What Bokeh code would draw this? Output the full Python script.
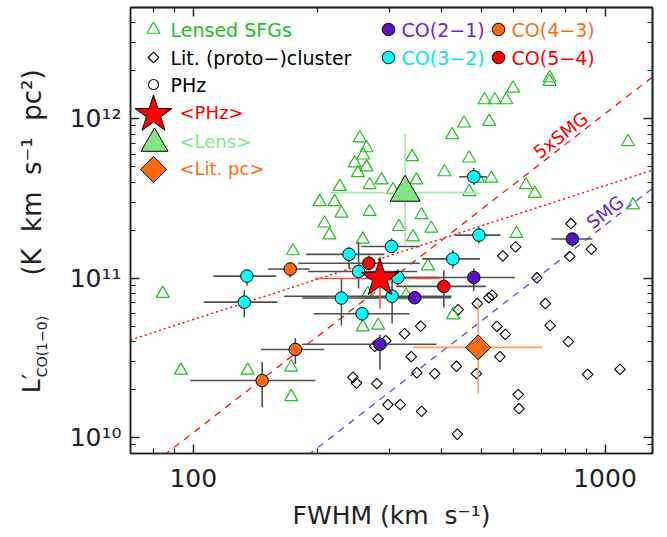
import math
from bokeh.plotting import figure
from bokeh.layouts import row
from bokeh.models import Range1d, FixedTicker, LogAxis, Label, CustomJSTickFormatter
from bokeh.core.properties import value
from bokeh.embed import file_html
from bokeh.resources import INLINE

# ---------------- axes ----------------
X_MIN, X_MAX = 70.4, 1304.0
Y_MIN, Y_MAX = 7.95e9, 4.98e12
x_major = [100, 1000]
x_minor = [80, 90, 200, 300, 400, 500, 600, 700, 800, 900]
y_major = [1e10, 1e11, 1e12]
y_minor = [9e9, 2e10, 3e10, 4e10, 5e10, 6e10, 7e10, 8e10, 9e10,
           2e11, 3e11, 4e11, 5e11, 6e11, 7e11, 8e11, 9e11, 2e12, 3e12, 4e12]

# ---------------- data ----------------
# Lensed SFGs (open green triangles)
lens_fwhm = [84.3, 93.3, 135.6, 172.9, 172.9, 174.6, 253.7, 263.6, 258.6, 246.6, 263.6, 251.2,
             286.6, 268.1, 226.9, 202.8, 220.4, 229.0, 268.1, 208.2, 214.2, 258.0, 315.9, 305.5,
             265.5, 258.0, 281.2, 328.9, 371.4, 427.3, 609.3, 358.4, 378.5, 341.7, 340.1, 348.3,
             407.4, 425.3, 454.6, 467.9, 467.9, 491.8, 529.6, 523.3, 509.8, 539.8, 575.5, 597.8,
             733.7, 733.7, 642.4, 675.3, 1137, 1170]
lens_lco = [8.0e10, 2.64e10, 2.64e10, 2.76e10, 1.80e10, 1.48e11, 7.56e11, 6.55e11, 5.90e11, 5.27e11,
            4.97e11, 4.57e11, 4.12e11, 3.84e11, 3.75e11, 3.01e11, 3.01e11, 2.55e11, 2.61e11, 2.21e11,
            1.86e11, 1.75e11, 2.10e11, 3.57e11, 8.0e10, 4.93e10, 5.05e10, 7.81e10, 1.19e11, 5.86e10,
            1.90e11, 2.49e11, 2.05e11, 1.81e11, 5.76e11, 4.12e11, 4.63e11, 7.91e11, 9.36e11, 5.65e11,
            3.48e11, 4.22e11, 4.22e11, 9.59e11, 1.31e12, 1.31e12, 1.31e12, 1.55e12, 1.80e12, 1.71e12,
            3.84e11, 3.39e11, 7.16e11, 2.87e11]

# Literature (proto-)clusters (open diamonds)
lit_fwhm = [826.6, 820.7, 926.7, 606.5, 564.8, 683.1, 716.4, 735.5, 814.7, 522.1, 532.1, 489.5,
            439.8, 356.6, 325.9, 546.2, 572.8, 338.4, 555.4, 349.1, 385.8, 435.7, 487.2, 907.1,
            1087, 615.2, 618.2, 358.4, 437.8, 244.3, 249.0, 279.1, 281.2, 296.9, 318.1, 275.8, 293.4]
lit_lco = [2.20e11, 1.37e11, 1.52e11, 1.57e11, 1.38e11, 1.005e11, 6.93e10, 5.05e10, 4.0e10, 7.54e10,
           7.81e10, 6.93e10, 6.34e10, 5.0e10, 4.49e10, 4.98e10, 4.44e10, 3.22e10, 3.22e10, 2.55e10,
           2.52e10, 2.80e10, 2.52e10, 2.49e10, 2.68e10, 1.86e10, 1.52e10, 1.46e10, 1.05e10, 2.39e10,
           2.20e10, 2.18e10, 1.31e10, 1.61e10, 1.61e10, 3.74e10, 4.05e10]

# PHz sources, by transition
co21_fwhm = [284, 345, 480, 833]
co21_lco = [3.85e10, 7.54e10, 1.01e11, 1.76e11]
co21_fwhm_lo = [184, 262, 300, 741]
co21_fwhm_hi = [390, 423, 604, 931]
co21_lco_lo = [2.67e10, 7.0e10, 8.3e10, 1.57e11]
co21_lco_hi = [4.42e10, 8.1e10, 1.15e11, 1.91e11]

co32_fwhm = [135, 133, 239, 252, 303, 314, 229, 304, 257, 427, 494, 480]
co32_lco = [1.03e11, 7.07e10, 1.41e11, 1.10e11, 1.58e11, 1.01e11, 7.5e10, 7.7e10, 5.98e10, 1.32e11, 1.86e11, 4.32e11]
co32_fwhm_lo = [112, 106, 188, 190, 256, 262, 184, 166, 196, 360, 432, 442]
co32_fwhm_hi = [159, 160, 291, 350, 355, 392, 283, 424, 335, 497, 557, 517]
co32_lco_lo = [9.0e10, 5.69e10, 1.15e11, 8.6e10, 1.49e11, 9.0e10, 5.05e10, 5.2e10, 5.4e10, 1.15e11, 1.65e11, 3.84e11]
co32_lco_hi = [1.12e11, 8.41e10, 1.57e11, 1.69e11, 1.78e11, 1.13e11, 9.9e10, 9.7e10, 6.6e10, 1.50e11, 2.08e11, 4.90e11]

co43_fwhm = [172, 177, 147]
co43_lco = [1.14e11, 3.57e10, 2.28e10]
co43_fwhm_lo = [152, 146, 98.3]
co43_fwhm_hi = [192, 208, 198]
co43_lco_lo = [1.01e11, 2.9e10, 1.55e10]
co43_lco_hi = [1.26e11, 4.2e10, 2.98e10]

co54_fwhm = [267, 406]
co54_lco = [1.24e11, 8.88e10]
co54_fwhm_lo = [180, 311]
co54_fwhm_hi = [355, 513]
co54_lco_lo = [1.12e11, 6.54e10]
co54_lco_hi = [1.38e11, 1.12e11]

# sample means with ranges
phz_mean = dict(fwhm=[284], lco=[9.95e10], fwhm_lo=[197], fwhm_hi=[400], lco_lo=[6.44e10], lco_hi=[1.36e11])
lensm_mean = dict(fwhm=[327], lco=[3.44e11], fwhm_lo=[216], fwhm_hi=[493], lco_lo=[1.6e11], lco_hi=[8.07e11])
litpc_mean = dict(fwhm=[492], lco=[3.68e10], fwhm_lo=[342], fwhm_hi=[703], lco_lo=[1.9e10], lco_hi=[7.07e10])

# model relations
SMG_COEFF = 2.15e5          # L' = C * FWHM^2 (SMG)
SMG5_FACTOR = 5.0
FIT_NORM, FIT_SLOPE = 5.5e10, 0.84   # dotted: L' = N (FWHM/100)^s
line_fwhm = [60.0, 1400.0]

# ---------------- colours ----------------
GREEN = "#1fc01f"
LGREEN = "#80e880"
PURPLE = "#5a10c4"
CYAN = "#00ffff"
ORANGE = "#ff6a10"
RED = "#ff0000"
FONT = "DejaVu Sans"
INK = "#222222"
NB = "\u00a0"

W, H = 667, 537
LEFT_W = 60
FRAME_L, FRAME_R, FRAME_T, FRAME_B = 130, 652, 7, 453   # page pixels of plot frame

p = figure(width=W - LEFT_W, height=H, x_axis_type="log", y_axis_type="log",
           x_range=Range1d(X_MIN, X_MAX), y_range=Range1d(Y_MIN, Y_MAX),
           output_backend="svg", toolbar_location=None,
           min_border_left=FRAME_L - LEFT_W, min_border_right=W - FRAME_R,
           min_border_top=FRAME_T, min_border_bottom=H - FRAME_B)
p.xgrid.visible = False
p.ygrid.visible = False
p.outline_line_color = INK
p.outline_line_width = 1.5
p.background_fill_color = "white"
p.border_fill_color = "white"

x_fmt = CustomJSTickFormatter(code="return tick.toFixed(0);")
y_fmt = CustomJSTickFormatter(code="""
const sup = {'0':'\u2070','1':'\u00b9','2':'\u00b2','3':'\u00b3','4':'\u2074','5':'\u2075','6':'\u2076','7':'\u2077','8':'\u2078','9':'\u2079','-':'\u207b'};
const e = Math.round(Math.log10(tick));
return '10' + String(e).split('').map(c => sup[c]).join('');
""")

def style_axis(ax):
    ax.axis_line_color = INK
    ax.axis_line_width = 1.5
    ax.major_tick_in = 9
    ax.major_tick_out = 0
    ax.minor_tick_in = 5
    ax.minor_tick_out = 0
    ax.major_tick_line_color = INK
    ax.major_tick_line_width = 1.5
    ax.minor_tick_line_color = INK
    ax.minor_tick_line_width = 1.2
    ax.major_label_text_font = FONT
    ax.major_label_text_font_size = "25px"
    ax.major_label_text_color = INK

p.xaxis.ticker = FixedTicker(ticks=x_major, minor_ticks=x_minor)
p.yaxis.ticker = FixedTicker(ticks=y_major, minor_ticks=y_minor)
p.xaxis.formatter = x_fmt
p.yaxis.formatter = y_fmt
style_axis(p.xaxis[0])
style_axis(p.yaxis[0])
p.xaxis.major_label_standoff = 15
p.yaxis.major_label_standoff = 9
p.xaxis.axis_label = "FWHM" + NB + "(km" + NB + NB + "s\u207b\u00b9)"
p.xaxis.axis_label_text_font = FONT
p.xaxis.axis_label_text_font_size = "25px"
p.xaxis.axis_label_text_font_style = "normal"
p.xaxis.axis_label_text_color = INK
p.xaxis.axis_label_standoff = 11

# mirrored ticks on top / right (no labels): all ticks given as "minor" ticks
for side, ticks, tick_len in [("above", x_major, 9), ("above", x_minor, 5),
                              ("right", y_major, 9), ("right", y_minor, 5)]:
    ax = LogAxis(ticker=FixedTicker(ticks=[], minor_ticks=ticks))
    ax.axis_line_color = INK
    ax.axis_line_width = 1.5
    ax.minor_tick_in = tick_len
    ax.minor_tick_out = 0
    ax.minor_tick_line_color = INK
    ax.minor_tick_line_width = 1.5 if tick_len == 9 else 1.2
    ax.major_tick_in = 0
    ax.major_tick_out = 0
    ax.major_label_standoff = 0
    p.add_layout(ax, side)

# ---------------- model lines ----------------
smg_l = [SMG_COEFF * f ** 2 for f in line_fwhm]
smg5_l = [SMG5_FACTOR * SMG_COEFF * f ** 2 for f in line_fwhm]
fit_l = [FIT_NORM * (f / 100.0) ** FIT_SLOPE for f in line_fwhm]
p.line(line_fwhm, smg_l, line_color="#7030e0", line_width=1.2, line_dash="7 6")
p.line(line_fwhm, smg5_l, line_color=RED, line_width=1.2, line_dash="7 6")
p.line(line_fwhm, fit_l, line_color=RED, line_width=1.4, line_dash="2 3")

SLOPE_ANGLE = math.atan(2 * ((FRAME_B - FRAME_T) / math.log10(Y_MAX / Y_MIN)) /
                        ((FRAME_R - FRAME_L) / math.log10(X_MAX / X_MIN)))
p.add_layout(Label(x=780, y=7.9e11, text="5xSMG", angle=SLOPE_ANGLE, text_color=RED,
                   text_font=FONT, text_font_size="18px", text_align="center", text_baseline="middle"))
p.add_layout(Label(x=1000, y=2.6e11, text="SMG", angle=SLOPE_ANGLE, text_color="#6a20dc",
                   text_font=FONT, text_font_size="18px", text_align="center", text_baseline="middle"))

# ---------------- comparison samples ----------------
p.scatter(lit_fwhm, lit_lco, marker="square", angle=math.pi / 4, size=7.5,
          fill_color="white", fill_alpha=0, line_color="black", line_width=1.1)
p.scatter(lens_fwhm, lens_lco, marker="triangle", size=13,
          fill_alpha=0, line_color=GREEN, line_width=1.2)

# ---------------- PHz error bars + points ----------------
ERR = "#505050"
for fw, lc, flo, fhi, llo, lhi in [
        (co32_fwhm, co32_lco, co32_fwhm_lo, co32_fwhm_hi, co32_lco_lo, co32_lco_hi),
        (co21_fwhm, co21_lco, co21_fwhm_lo, co21_fwhm_hi, co21_lco_lo, co21_lco_hi),
        (co43_fwhm, co43_lco, co43_fwhm_lo, co43_fwhm_hi, co43_lco_lo, co43_lco_hi),
        (co54_fwhm, co54_lco, co54_fwhm_lo, co54_fwhm_hi, co54_lco_lo, co54_lco_hi)]:
    p.segment(x0=flo, y0=lc, x1=fhi, y1=lc, line_color=ERR, line_width=1.6)
    p.segment(x0=fw, y0=llo, x1=fw, y1=lhi, line_color=ERR, line_width=1.6)

# mean error bars
for d, col in [(lensm_mean, "#a6eaa6"), (litpc_mean, "#ffa060"), (phz_mean, "#ff5050")]:
    p.segment(x0=d["fwhm_lo"], y0=d["lco"], x1=d["fwhm_hi"], y1=d["lco"], line_color=col, line_width=1.6)
    p.segment(x0=d["fwhm"], y0=d["lco_lo"], x1=d["fwhm"], y1=d["lco_hi"], line_color=col, line_width=1.6)

for fw, lc, col in [(co32_fwhm, co32_lco, CYAN), (co21_fwhm, co21_lco, PURPLE),
                    (co43_fwhm, co43_lco, ORANGE), (co54_fwhm, co54_lco, RED)]:
    p.scatter(fw, lc, marker="circle", size=12.5, fill_color=col, line_color="black", line_width=1)

p.scatter(lensm_mean["fwhm"], lensm_mean["lco"], marker="triangle", size=30,
          fill_color=LGREEN, line_color="black", line_width=1)
p.scatter(litpc_mean["fwhm"], litpc_mean["lco"], marker="square", angle=math.pi / 4, size=17.5,
          fill_color=ORANGE, line_color="black", line_width=1)
p.scatter(phz_mean["fwhm"], phz_mean["lco"], marker="star", size=40,
          fill_color=RED, line_color="black", line_width=1)

# ---------------- legend (page-pixel layout) ----------------
def px_x(px):
    f = (px - FRAME_L) / (FRAME_R - FRAME_L)
    return 10 ** (math.log10(X_MIN) + f * math.log10(X_MAX / X_MIN))

def px_y(py):
    f = (FRAME_B - py) / (FRAME_B - FRAME_T)
    return 10 ** (math.log10(Y_MIN) + f * math.log10(Y_MAX / Y_MIN))

def text(t, px, py, color="black", size=19):
    p.add_layout(Label(x=px - FRAME_L, y=FRAME_B - py, x_units="screen", y_units="screen",
                       text=t, text_color=color, text_font=FONT, text_font_size=f"{size}px",
                       text_align="left", text_baseline="middle"))

p.scatter([px_x(153)], [px_y(29)], marker="triangle", size=13, fill_alpha=0, line_color=GREEN, line_width=1.2)
p.scatter([px_x(153)], [px_y(57)], marker="square", angle=math.pi / 4, size=7.5, fill_alpha=0,
          line_color="black", line_width=1.1)
p.scatter([px_x(153)], [px_y(84)], marker="circle", size=10, fill_alpha=0, line_color="black", line_width=1.1)
p.scatter([px_x(153)], [px_y(114)], marker="star", size=39, fill_color=RED, line_color="black", line_width=1)
p.scatter([px_x(154)], [px_y(143)], marker="triangle", size=27, fill_color=LGREEN, line_color="black", line_width=1)
p.scatter([px_x(153)], [px_y(169)], marker="square", angle=math.pi / 4, size=18.5, fill_color=ORANGE,
          line_color="black", line_width=1)
text("Lensed SFGs", 170, 29, GREEN)
text("Lit. (proto\u2212)cluster", 170, 57)
text("PHz", 170, 84)
text("<PHz>", 179, 112, RED, 18)
text("<Lens>", 179, 141, LGREEN, 18)
text("<Lit. pc>", 179, 168, ORANGE, 18)

for cx, cy, col, lab in [(388, 29, PURPLE, "CO(2\u22121)"), (498, 29, ORANGE, "CO(4\u22123)"),
                         (388, 57, CYAN, "CO(3\u22122)"), (498, 57, RED, "CO(5\u22124)")]:
    p.scatter([px_x(cx)], [px_y(cy)], marker="circle", size=12.5, fill_color=col, line_color="black", line_width=1)
    text(lab, cx + 13, cy, "#6a1fd4" if col == PURPLE else ("#00e8f0" if col == CYAN else col))

# ---------------- y-axis title in a narrow side figure ----------------
# (its frame is aligned with the main frame by the row layout, so map page pixels onto it)
lf = figure(width=LEFT_W, height=H, x_range=Range1d(0, LEFT_W), y_range=Range1d(H - FRAME_B, H - FRAME_T),
            output_backend="svg", toolbar_location=None, x_axis_location=None, y_axis_location=None,
            min_border=0, min_border_top=FRAME_T, min_border_bottom=H - FRAME_B)
lf.outline_line_color = None
lf.xgrid.visible = False
lf.ygrid.visible = False
lf.background_fill_color = "white"
lf.border_fill_color = "white"

ytitle_parts = ["L\u2032", "CO(1\u22120)",
                "(K" + NB + NB + "km" + NB + NB + "s\u207b\u00b9" + NB + NB + "pc\u00b2)"]
ytitle_x = [31, 41, 31]            # page px (centre line of each part)
ytitle_mid = [383, 346, 172]       # page px of the centre of each part
ytitle_size = ["25px", "14px", "26px"]
for t, x0, y0, s in zip(ytitle_parts, ytitle_x, ytitle_mid, ytitle_size):
    lf.text(x=[x0], y=[H - y0], text=[t], angle=math.pi / 2, text_align="center",
            text_baseline="middle", text_font=value(FONT), text_font_size=s, text_color=INK)

open("out.html", "w").write(file_html(row(lf, p), INLINE))
